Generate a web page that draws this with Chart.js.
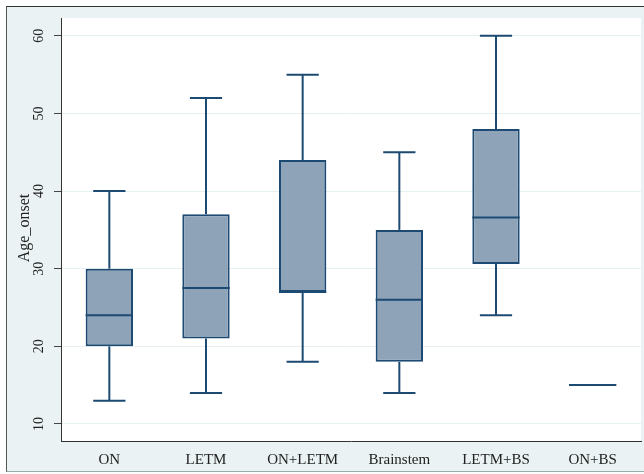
<!DOCTYPE html>
<html>
<head>
<meta charset="utf-8">
<script src="https://cdn.jsdelivr.net/npm/chart.js@4/dist/chart.umd.min.js"></script>
<style>
  html,body{margin:0;padding:0;background:#ffffff;}
  #frame{position:absolute;left:6px;top:6px;width:638px;height:466px;background:#eaf2f3;
    border-top:1px solid #333;border-left:1px solid #555;border-bottom:1px solid #9aa;box-sizing:border-box;}
  #wrap{position:absolute;left:0;top:0;width:644px;height:474px;}
</style>
</head>
<body>
<div id="frame"></div>
<div id="wrap"><canvas id="c" width="644" height="474"></canvas></div>
<script>
const categories = ["ON", "LETM", "ON+LETM", "Brainstem", "LETM+BS", "ON+BS"];
const whiskerLow  = [13, 14, 18, 14, 24, 15];
const q1          = [20, 21, 27, 18, 30.6, 15];
const median      = [24, 27.5, 27, 26, 36.6, 15];
const q3          = [30, 37, 44, 35, 48, 15];
const whiskerHigh = [40, 52, 55, 45, 60, 15];
const yTicks = [10, 20, 30, 40, 50, 60];

const lineColor = "#1d4a73";
const fillColor = "#8ea3b7";

const boxData = categories.map((c, i) => (q3[i] > q1[i] ? [q1[i], q3[i]] : null));

const boxPlugin = {
  id: "boxParts",
  beforeDraw(chart) {
    const {ctx, chartArea: a} = chart;
    ctx.save();
    ctx.fillStyle = "#ffffff";
    ctx.fillRect(a.left, a.top, a.right - a.left, a.bottom - a.top);
    ctx.restore();
  },
  afterDatasetsDraw(chart) {
    const ctx = chart.ctx;
    const xs = chart.scales.x, ys = chart.scales.y;
    const meta = chart.getDatasetMeta(0);
    let boxW = 47;
    meta.data.forEach(el => { if (el && el.width && isFinite(el.width)) boxW = el.width; });
    const capW = boxW * 0.68;
    ctx.save();
    ctx.strokeStyle = lineColor;
    ctx.lineWidth = 2;
    ctx.lineCap = "butt";
    categories.forEach((c, i) => {
      const x = xs.getPixelForValue(i);
      const line = (x1, y1, x2, y2) => { ctx.beginPath(); ctx.moveTo(x1, y1); ctx.lineTo(x2, y2); ctx.stroke(); };
      if (whiskerHigh[i] > q3[i]) {
        line(x, ys.getPixelForValue(q3[i]), x, ys.getPixelForValue(whiskerHigh[i]));
        const yy = ys.getPixelForValue(whiskerHigh[i]);
        line(x - capW / 2, yy, x + capW / 2, yy);
      }
      if (whiskerLow[i] < q1[i]) {
        line(x, ys.getPixelForValue(q1[i]), x, ys.getPixelForValue(whiskerLow[i]));
        const yy = ys.getPixelForValue(whiskerLow[i]);
        line(x - capW / 2, yy, x + capW / 2, yy);
      }
      const ym = ys.getPixelForValue(median[i]);
      line(x - boxW / 2, ym, x + boxW / 2, ym);
    });
    ctx.restore();
  },
  afterDraw(chart) {
    const ctx = chart.ctx;
    const ys = chart.scales.y;
    ctx.save();
    ctx.fillStyle = "#222";
    ctx.textAlign = "center";
    ctx.textBaseline = "middle";
    ctx.font = "14px 'Liberation Serif', 'Times New Roman', serif";
    yTicks.forEach(v => {
      const y = ys.getPixelForValue(v);
      ctx.save();
      ctx.translate(39, y);
      ctx.rotate(-Math.PI / 2);
      ctx.fillText(String(v), 0, 0);
      ctx.restore();
    });
    ctx.font = "16px 'Liberation Serif', 'Times New Roman', serif";
    ctx.save();
    ctx.translate(25, 228);
    ctx.rotate(-Math.PI / 2);
    ctx.fillText("Age_onset", 0, 0);
    ctx.restore();
    ctx.restore();
  }
};

new Chart(document.getElementById("c"), {
  type: "bar",
  data: {
    labels: categories,
    datasets: [{
      data: boxData,
      backgroundColor: fillColor,
      borderColor: lineColor,
      borderWidth: 2,
      borderSkipped: false,
      barPercentage: 0.49,
      categoryPercentage: 1.0
    }]
  },
  options: {
    responsive: false,
    animation: false,
    events: [],
    layout: { padding: { top: 18, right: 3, left: 0, bottom: 0 } },
    plugins: { legend: { display: false }, tooltip: { enabled: false } },
    scales: {
      x: {
        offset: true,
        grid: { display: false, drawTicks: false },
        border: { display: true, color: "#333", width: 1 },
        ticks: {
          color: "#222",
          padding: 10,
          font: { family: "'Liberation Serif', 'Times New Roman', serif", size: 15 }
        },
        afterFit(s) { s.height = 33; }
      },
      y: {
        min: 7.8,
        max: 62.3,
        afterBuildTicks(s) { s.ticks = yTicks.map(v => ({ value: v })); },
        grid: { color: "#e6f0f2", lineWidth: 1, tickColor: "#444", tickLength: 7, drawTicks: true },
        border: { display: true, color: "#333", width: 1 },
        ticks: { display: false },
        afterFit(s) { s.width = 61; }
      }
    }
  },
  plugins: [boxPlugin]
});
</script>
</body>
</html>
